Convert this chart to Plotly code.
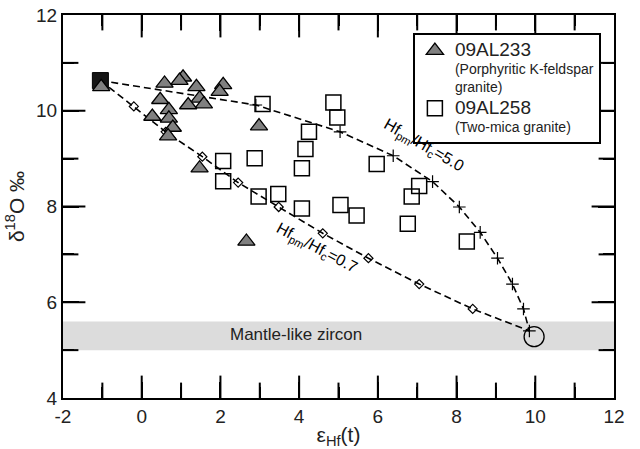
import plotly.graph_objects as go

# 09AL233 (triangles)
tri_x = [-1.03, 0.58, 1.05, 0.96, 1.39, 2.07, 1.98, 0.47, 1.47, 1.58, 1.18, 0.69, 0.27, 0.69, 0.79, 0.67, 2.98, 1.47, 2.66]
tri_y = [10.50, 10.57, 10.70, 10.63, 10.50, 10.54, 10.40, 10.23, 10.26, 10.14, 10.12, 10.02, 9.88, 9.84, 9.65, 9.47, 9.68, 8.80, 7.27]

# 09AL258 (squares)
sq_x = [3.07, 4.87, 4.97, 4.25, 4.16, 4.07, 5.97, 2.07, 2.87, 2.07, 2.97, 3.47, 4.07, 5.05, 5.46, 7.05, 6.86, 6.76, 8.26]
sq_y = [10.14, 10.17, 9.86, 9.56, 9.20, 8.80, 8.89, 8.95, 9.01, 8.53, 8.21, 8.26, 7.96, 8.03, 7.81, 8.43, 8.21, 7.64, 7.27]

# End members
crust_x, crust_y = [-1.05], [10.63]
mantle_x, mantle_y = [9.97], [5.28]

# Mixing curves
c50_x = [-1.05, 2.90, 5.04, 6.39, 7.39, 8.07, 8.60, 9.04, 9.42, 9.70, 9.85]
c50_y = [10.63, 10.12, 9.56, 9.06, 8.52, 7.99, 7.46, 6.92, 6.38, 5.86, 5.40]
c07_x = [-1.05, -0.20, 0.61, 1.54, 2.45, 3.48, 4.60, 5.76, 7.05, 8.41, 9.85]
c07_y = [10.63, 10.09, 9.56, 9.04, 8.50, 7.99, 7.44, 6.92, 6.38, 5.86, 5.40]

band_y = [5.0, 5.6]
x_range = [-2, 12]
y_range = [4, 12]
x_major = [-2, 0, 2, 4, 6, 8, 10, 12]
x_major_text = ["-2", "0", "2", "4", "6", "8", "10", "12"]
x_minor = [-1, 1, 3, 5, 7, 9, 11]
y_major = [4, 6, 8, 10, 12]
y_major_text = ["4", "6", "8", "10", "12"]
y_minor = [5, 7, 9, 11]

FONT = "Liberation Sans, Arial, sans-serif"
MAJOR_LEN, MINOR_LEN = 16, 11  # px

fig = go.Figure()

fig.add_shape(type="rect", xref="paper", yref="y", x0=0, x1=1, y0=band_y[0], y1=band_y[1],
              fillcolor="#dcdcdc", line=dict(width=0), layer="below")

# inward tick marks: line markers centred on the frame, clipped to the plot area
for vals, ln in [(x_major, MAJOR_LEN), (x_minor, MINOR_LEN)]:
    inner = [v for v in vals if v not in x_range]
    fig.add_trace(go.Scatter(x=inner * 2, y=[y_range[0]] * len(inner) + [y_range[1]] * len(inner),
                             mode="markers", showlegend=False, hoverinfo="skip", cliponaxis=True,
                             marker=dict(symbol="line-ns", size=2 * ln, color="black",
                                         line=dict(color="black", width=2))))
for vals, ln in [(y_major, MAJOR_LEN), (y_minor, MINOR_LEN)]:
    inner = [v for v in vals if v not in y_range]
    fig.add_trace(go.Scatter(x=[x_range[0]] * len(inner) + [x_range[1]] * len(inner), y=inner * 2,
                             mode="markers", showlegend=False, hoverinfo="skip", cliponaxis=True,
                             marker=dict(symbol="line-ew", size=2 * ln, color="black",
                                         line=dict(color="black", width=2))))

fig.add_trace(go.Scatter(x=c50_x, y=c50_y, mode="lines+markers", showlegend=False,
                         line=dict(color="black", width=1.6, dash="7px,4px"),
                         marker=dict(symbol="cross-thin", size=9, line=dict(color="black", width=1.2))))
fig.add_trace(go.Scatter(x=c07_x[1:-1], y=c07_y[1:-1], mode="markers", showlegend=False,
                         marker=dict(symbol="diamond-open", size=7, color="black", line=dict(width=1.2))))
fig.add_trace(go.Scatter(x=c07_x, y=c07_y, mode="lines", showlegend=False,
                         line=dict(color="black", width=1.6, dash="7px,4px")))

fig.add_trace(go.Scatter(x=crust_x, y=crust_y, mode="markers", showlegend=False,
                         marker=dict(symbol="square", size=16, color="#151515", line=dict(color="black", width=1))))
fig.add_trace(go.Scatter(x=mantle_x, y=mantle_y, mode="markers", showlegend=False,
                         marker=dict(symbol="circle-open", size=20, color="black", line=dict(width=1.3))))

fig.add_trace(go.Scatter(x=tri_x, y=tri_y, mode="markers",
                         name="<span style='font-size:19px'>09AL233</span><br>(Porphyritic K-feldspar<br>granite)",
                         marker=dict(symbol="triangle-up", size=15, color="#808080",
                                     line=dict(color="black", width=1.3))))
fig.add_trace(go.Scatter(x=sq_x, y=sq_y, mode="markers",
                         name="<span style='font-size:19px'>09AL258</span><br>(Two-mica granite)",
                         marker=dict(symbol="square-open", size=15, color="black", line=dict(width=1.5))))

fig.add_annotation(x=3.92, y=5.32, text="Mantle-like zircon", showarrow=False,
                   font=dict(size=17, color="#222", family=FONT))
fig.add_annotation(x=7.15, y=9.27, text="Hf<sub>pm</sub>/Hf<sub>c</sub>=5.0", showarrow=False,
                   textangle=30, font=dict(size=16, color="black", family=FONT))
fig.add_annotation(x=4.45, y=7.12, text="Hf<sub>pm</sub>/Hf<sub>c</sub>=0.7", showarrow=False,
                   textangle=28, font=dict(size=16, color="black", family=FONT))

tickfont = dict(size=19, color="#222", family=FONT)
common = dict(showgrid=False, zeroline=False, showline=True, linecolor="black", linewidth=2,
              mirror="ticks", ticks="inside", ticklen=MAJOR_LEN, tickwidth=2, tickcolor="black",
              tickfont=tickfont, automargin=False, layer="above traces")

fig.update_layout(
    template="none",
    xaxis=dict(range=x_range, tickmode="array", tickvals=x_major, ticktext=x_major_text,
               minor=dict(tickmode="array", tickvals=x_minor, ticks="inside", ticklen=MINOR_LEN,
                          tickwidth=2, tickcolor="black"),
               title=dict(text="ε<sub>Hf</sub>(t)", font=dict(size=21, color="#222", family=FONT), standoff=4),
               **common),
    yaxis=dict(range=y_range, tickmode="array", tickvals=y_major, ticktext=y_major_text,
               minor=dict(tickmode="array", tickvals=y_minor, ticks="inside", ticklen=MINOR_LEN,
                          tickwidth=2, tickcolor="black"),
               title=dict(text="δ<sup>18</sup>O ‰", font=dict(size=21, color="#222", family=FONT), standoff=6),
               **common),
    width=640, height=449,
    margin=dict(l=63, r=26, t=15, b=51),
    plot_bgcolor="rgba(0,0,0,0)", paper_bgcolor="white",
    font=dict(family=FONT, color="black"),
    legend=dict(x=0.635, y=0.953, xanchor="left", yanchor="top", valign="top",
                bordercolor="black", borderwidth=2, bgcolor="white",
                font=dict(size=14, color="#222", family=FONT), tracegroupgap=0,
                itemwidth=30),
)

fig.write_html("out.html", config={"displayModeBar": False},
               post_script="document.body.style.margin='0';")
